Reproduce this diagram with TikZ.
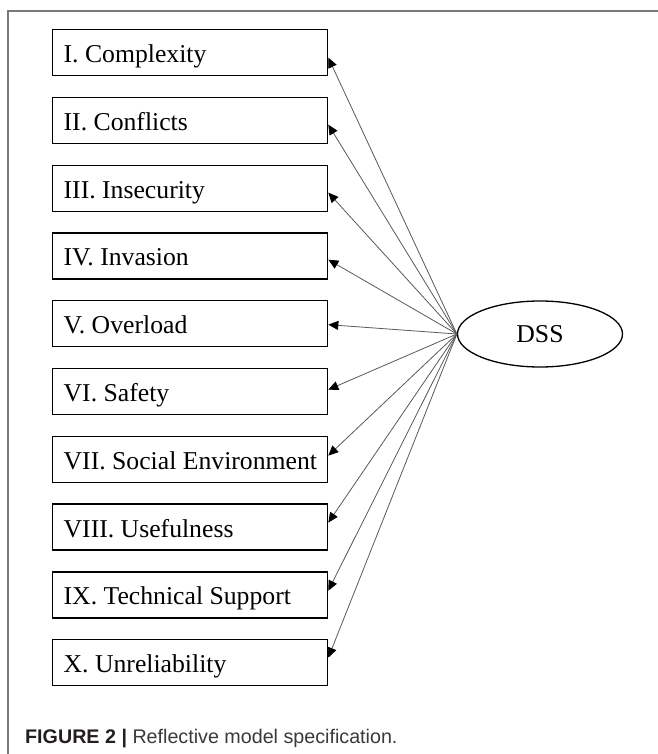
\documentclass[tikz,border=0pt]{standalone}
\usepackage{fontspec}
\setmainfont{Liberation Serif}
\newfontfamily\capfont{Liberation Sans}
\usetikzlibrary{arrows.meta,shapes.geometric,calc}
\definecolor{framegray}{HTML}{7A7A7A}
\definecolor{linkgray}{HTML}{5A5A5A}
\definecolor{capdark}{HTML}{231F20}
\definecolor{captext}{HTML}{3A3A3A}
\begin{document}
\begin{tikzpicture}[x=1pt,y=-1pt,
  itembox/.style={draw=black, line width=1.3pt, rectangle, anchor=north west,
    minimum width=275pt, minimum height=46pt, inner xsep=11pt, inner ysep=0pt,
    text height=23pt, text depth=3pt, font=\fontsize{25.7}{30}\selectfont},
  latent/.style={draw=black, line width=1.3pt, ellipse, minimum width=165pt,
    minimum height=66pt, inner sep=0pt, font=\fontsize{25.7}{30}\selectfont},
  loading/.style={draw=linkgray, line width=0.8pt,
    -{Triangle[length=10pt,width=9pt,color=black]}}]

\useasboundingbox (0,0) rectangle (657,754);
\fill[white] (0,0) rectangle (657,754);

% outer frame (left and top edges)
\draw[framegray, line width=1.5pt] (8,770) -- (8,11) -- (670,11);

% the latent construct
\node[latent] (dss) at (540,334) {DSS};

% the ten indicators and their loadings
\foreach \k/\txt/\dy in {0/I. Complexity/5, 1/II. Conflicts/4.2, 2/III. Insecurity/4.4,
    3/IV. Invasion/3.7, 4/V. Overload/0.9, 5/VI. Safety/-1.9,
    6/VII. Social Environment/-3.7, 7/VIII. Usefulness/-4.5,
    8/IX. Technical Support/-4.2, 9/X. Unreliability/-5} {
  \node[itembox] (b\k) at (52,{29+67.78*\k}) {\makebox[253pt][l]{\txt}};
  \coordinate (t\k) at ($(b\k.east)+(0,\dy)$);
  \draw[loading] (dss.west) -- (t\k);
}

% caption
\node[anchor=base west, inner sep=0pt, text=captext,
  font=\capfont\fontsize{19.7}{24}\selectfont] (cap) at (25,743)
  {\textcolor{capdark}{\bfseries FIGURE 2 |} Reflective model specification.};
\end{tikzpicture}
\end{document}
